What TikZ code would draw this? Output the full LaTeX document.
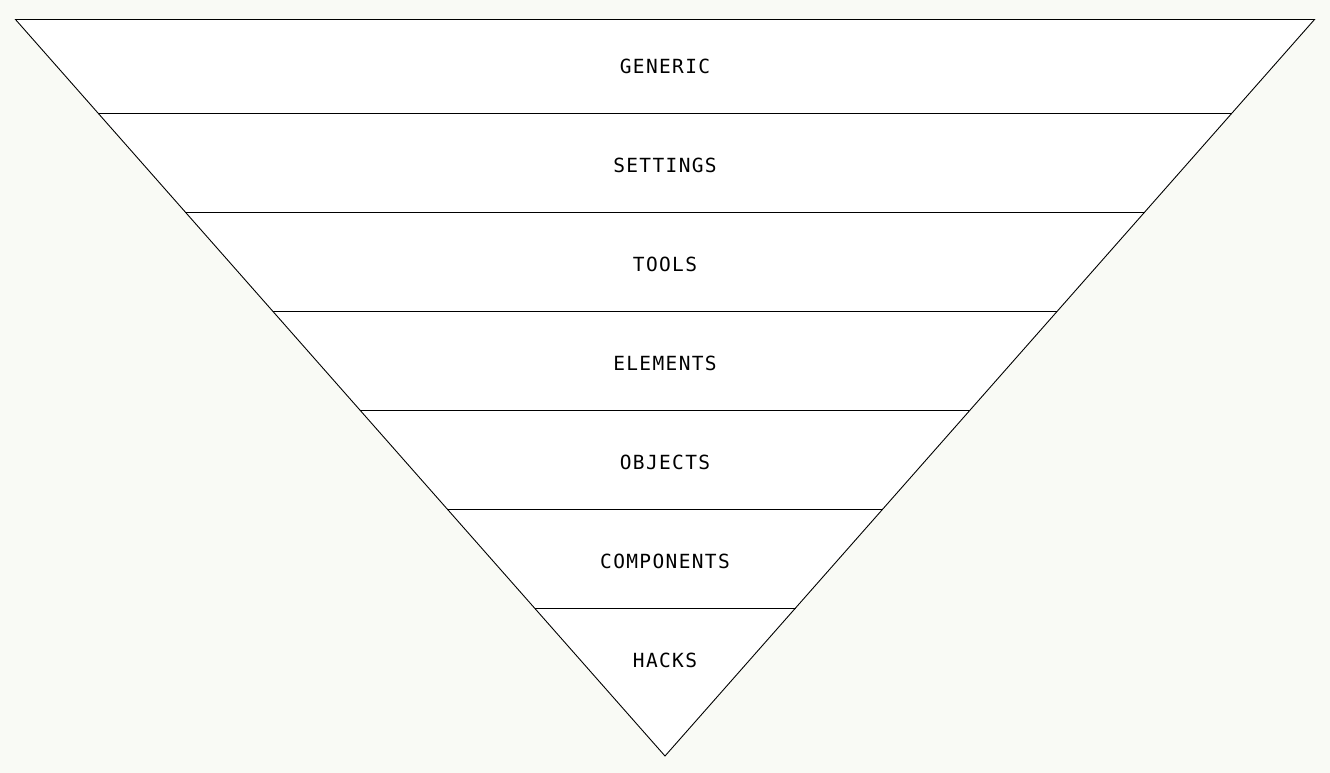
\documentclass[tikz,border=0pt]{standalone}
\usepackage{fontspec}
\newfontfamily\labelfont[LetterSpace=7]{DejaVu Sans Mono}
\definecolor{bg}{HTML}{F9FAF5}
\tikzset{
  band/.style={draw=black, line width=0.9pt},
  lbl/.style={font=\labelfont\fontsize{19.5}{19.5}\selectfont, text=black, inner sep=0pt, anchor=center}
}
\begin{document}
\begin{tikzpicture}[x=1pt,y=-1pt]
\useasboundingbox (0,0) rectangle (1330,773);
\fill[bg] (0,0) rectangle (1330,773);
\coordinate (tl) at (15.5,19.5);
\coordinate (tr) at (1314.5,19.5);
\coordinate (ap) at (665,756);
\fill[white] (tl) -- (tr) -- (ap) -- cycle;
\foreach \y in {113,212,311,410,509,608}{
  \pgfmathsetmacro{\dx}{(\y-19.5)*0.8819}
  \draw[band] ({15.5+\dx},\y) -- ({1314.5-\dx},\y);
}
\draw[band, line join=miter] (tl) -- (tr) -- (ap) -- cycle;
\node[lbl] (generic) at (665,66) {GENERIC};
\node[lbl] (settings) at (665,165) {SETTINGS};
\node[lbl] (tools) at (665,264) {TOOLS};
\node[lbl] (elements) at (665,363) {ELEMENTS};
\node[lbl] (objects) at (665,462) {OBJECTS};
\node[lbl] (components) at (665,561) {COMPONENTS};
\node[lbl] (hacks) at (665,660) {HACKS};
\end{tikzpicture}
\end{document}
